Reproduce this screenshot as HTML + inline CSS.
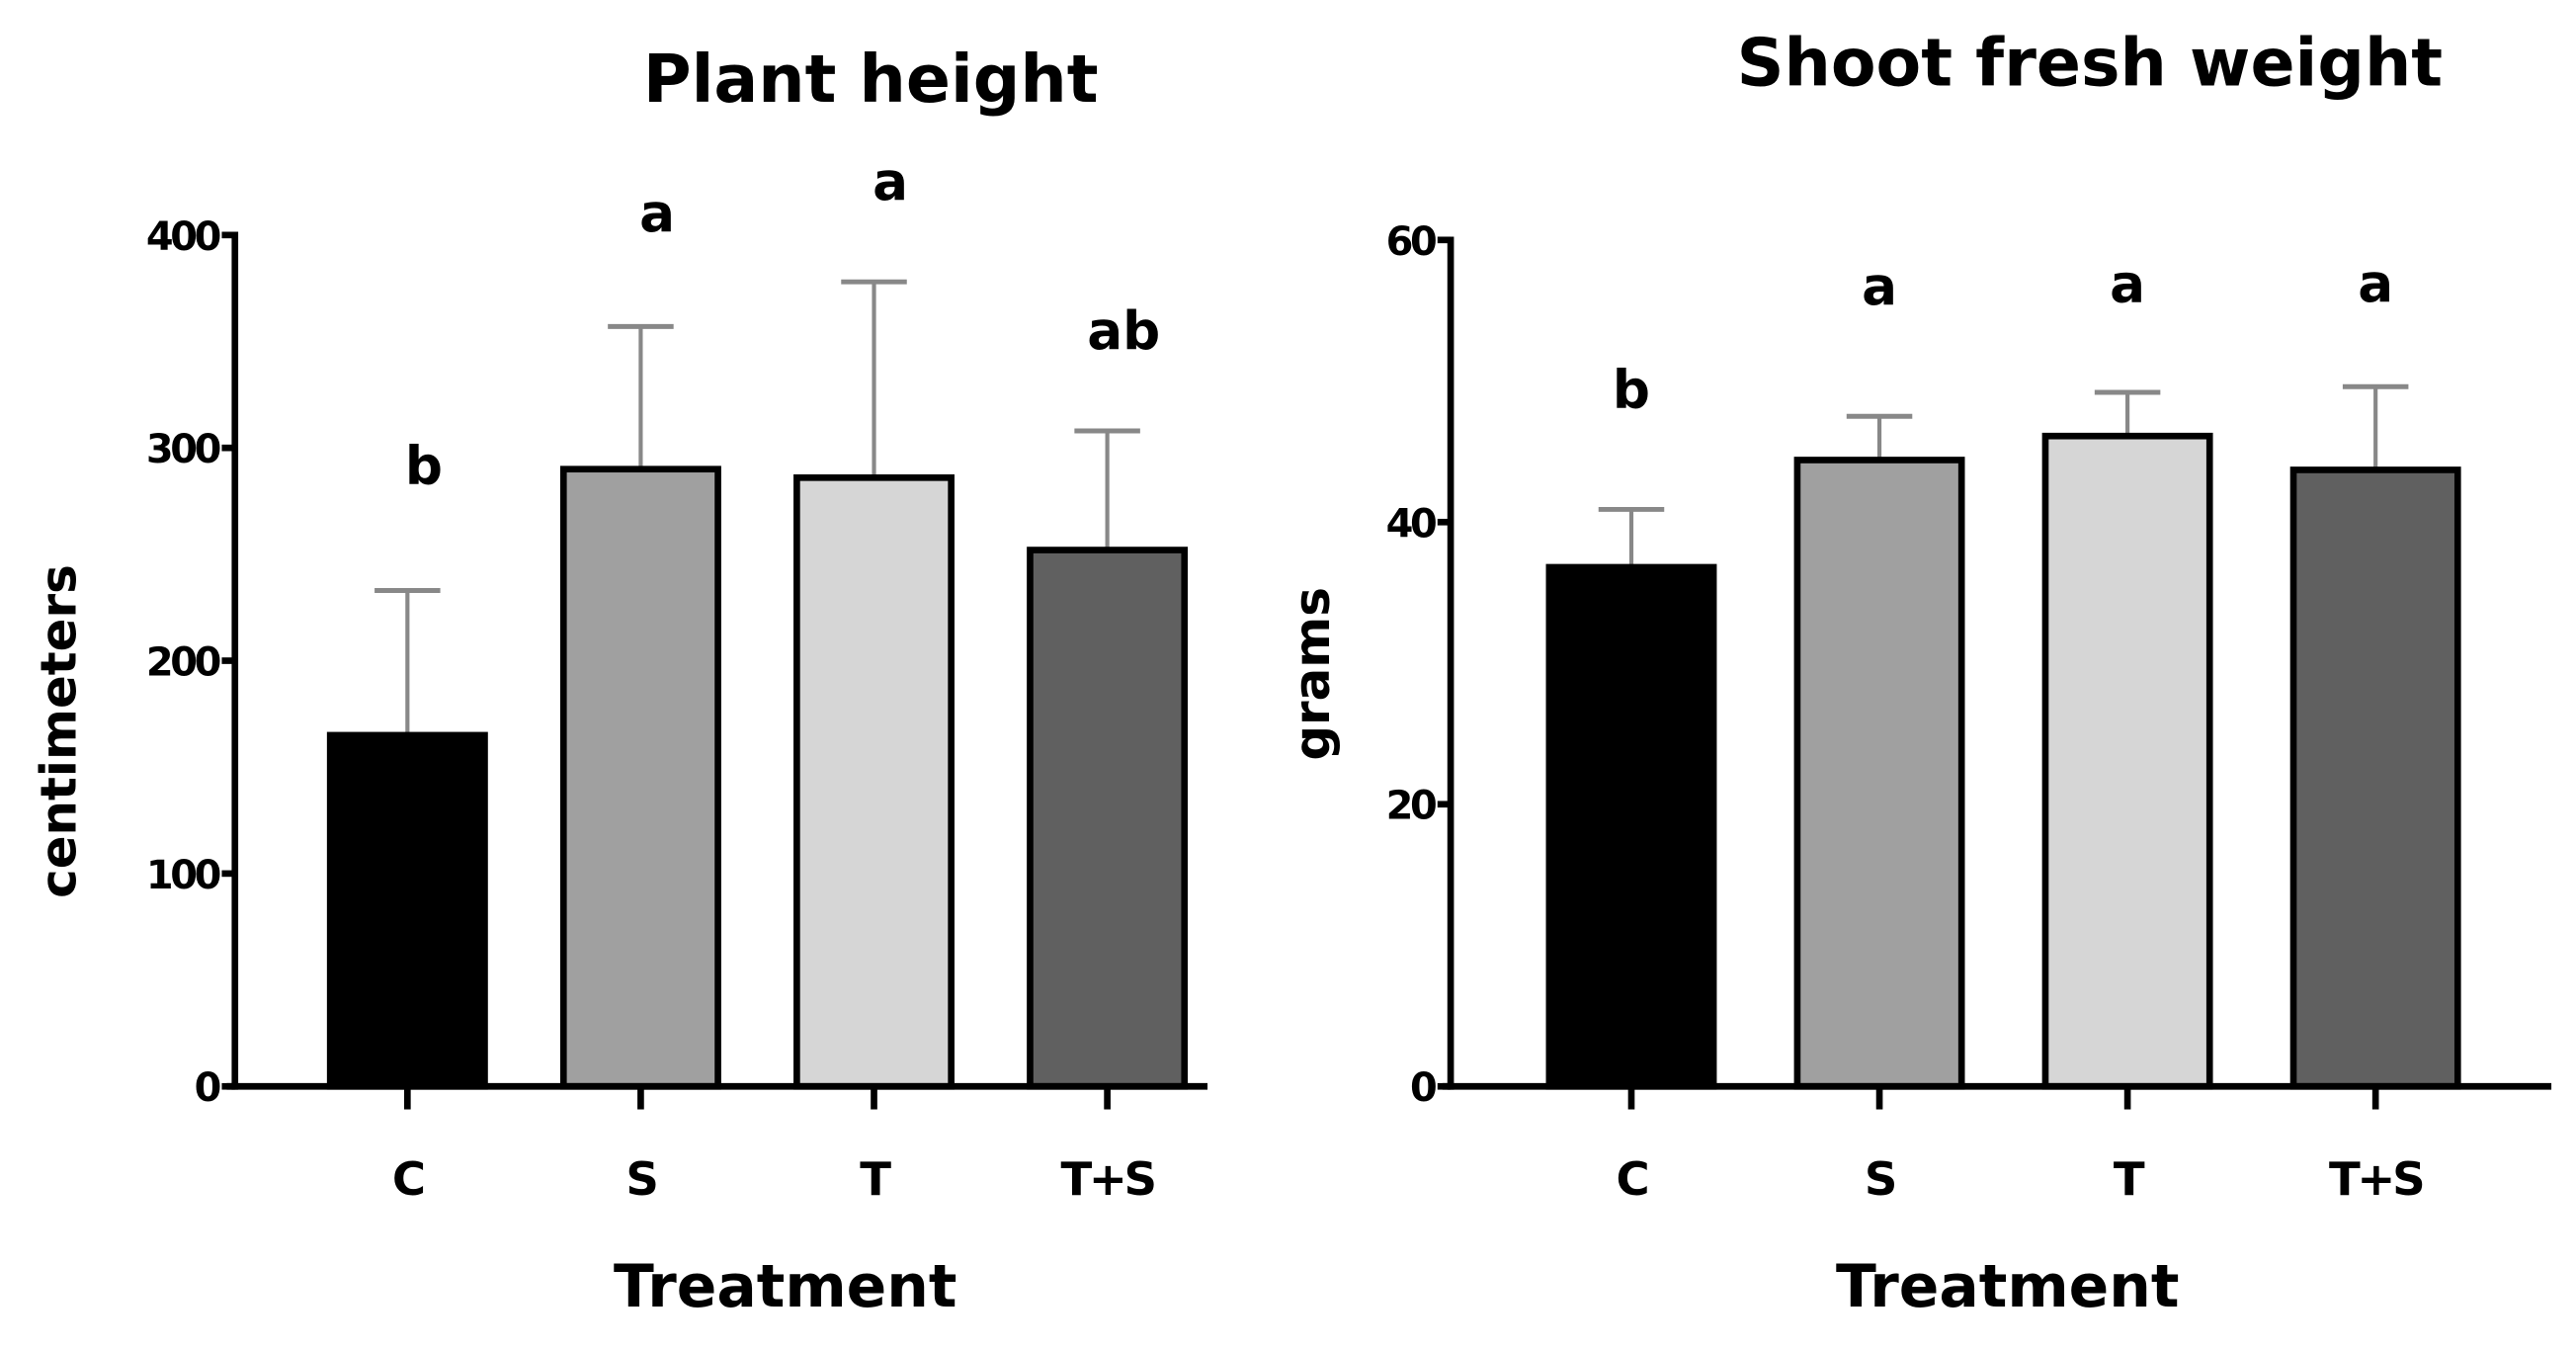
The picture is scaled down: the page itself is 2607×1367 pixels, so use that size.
<!DOCTYPE html>
<html><head><meta charset="utf-8"><style>
html,body{margin:0;padding:0;background:#fff;}
svg{display:block;}
text{font-family:"DejaVu Sans","Liberation Sans",sans-serif;font-weight:bold;fill:#000;}
</style></head><body>
<svg id="svg" width="2607" height="1367" viewBox="0 0 1568 822" preserveAspectRatio="none"></svg>
<script>
const categories = ["C","S","T","T+S"];
const heightValues = [165, 290, 286, 252];
const heightErrors = [68, 67, 92, 56];
const heightLetters = ["b","a","a","ab"];
const heightTicks = [0,100,200,300,400];
const weightValues = [36.8, 44.4, 46.1, 43.7];
const weightErrors = [4.1, 3.1, 3.1, 5.9];
const weightLetters = ["b","a","a","a"];
const weightTicks = [0,20,40,60];
const fills = ["#000000","#a0a0a0","#d6d6d6","#606060"];

const NS="http://www.w3.org/2000/svg";
const svg=document.getElementById('svg');
function mk(tag,attrs,parent,txt){const e=document.createElementNS(NS,tag);for(const k in attrs)e.setAttribute(k,attrs[k]);if(txt!==undefined)e.textContent=txt;(parent||svg).appendChild(e);return e;}

function chart(cfg){
  const g=mk('g',{});
  
  
  const y=v=>cfg.y0-(v/cfg.max)*(cfg.y0-cfg.yTop);
  const t=mk('text',{x:cfg.titleX,y:cfg.titleY,'font-size':40,'text-anchor':'middle'},g,cfg.title);
  
  
  // y ticks
  cfg.ticks.forEach(v=>{
    const l=mk('line',{x1:cfg.ax-8,x2:cfg.ax,y1:y(v),y2:y(v),stroke:'#000','stroke-width':4},g);
    
    
    const tl=mk('text',{x:cfg.ax-10,y:y(v)+9,'font-size':24,'text-anchor':'end','letter-spacing':-2},g,String(v));
    
    
  });
  const bw=cfg.bw;
  categories.forEach((c,i)=>{
    const cx=cfg.cx0+i*cfg.step;
    const top=y(cfg.values[i]), et=y(cfg.values[i]+cfg.errors[i]);
    const eb=mk('line',{x1:cx,x2:cx,y1:et,y2:top,stroke:'#888','stroke-width':2.5},g);
    
    
    const ec=mk('line',{x1:cx-20,x2:cx+20,y1:et,y2:et,stroke:'#888','stroke-width':3},g);
    
    
    const r=mk('rect',{x:cx-bw/2,y:top,width:bw,height:cfg.y0-top,fill:fills[i],stroke:'#000','stroke-width':4},g);
    
    
    const lt=mk('text',{x:cx+cfg.letterDx,y:y(cfg.values[i]+cfg.errors[i])-cfg.letterGap[i],'font-size':32,'text-anchor':'middle'},g,cfg.letters[i]);
    
    
    const xt=mk('line',{x1:cx,x2:cx,y1:cfg.y0,y2:cfg.y0+14,stroke:'#000','stroke-width':4},g);
    
    
    const xl=mk('text',{x:cx,y:cfg.y0+66,'font-size':28,'text-anchor':'middle','letter-spacing':-2},g,c);
    
    
  });
  const ya=mk('line',{x1:cfg.ax,x2:cfg.ax,y1:cfg.yTop-2,y2:cfg.y0+2,stroke:'#000','stroke-width':4},g);
  
  
  const xa=mk('line',{x1:cfg.ax-5,x2:cfg.axEnd,y1:cfg.y0,y2:cfg.y0,stroke:'#000','stroke-width':4},g);
  
  
  const xtit=mk('text',{x:cfg.xtX,y:795,'font-size':36,'text-anchor':'middle'},g,'Treatment');
  
  
  const ytit=mk('text',{x:0,y:0,'font-size':30,'text-anchor':'middle',transform:`translate(${cfg.ytX},${cfg.ytY}) rotate(-90)`},g,cfg.ytitle);
  
  
}
chart({name:'plant-height-chart',title:'Plant height',titleX:530,titleY:62,ax:143,axEnd:735,y0:661,yTop:143,max:400,
  ticks:heightTicks,values:heightValues,errors:heightErrors,letters:heightLetters,letterGap:[65,58,50,50],letterDx:10,
  cx0:248,step:142,bw:94,xtX:478,ytX:46,ytY:445,ytitle:'centimeters'});
chart({name:'shoot-fresh-weight-chart',title:'Shoot fresh weight',titleX:1272,titleY:52,ax:883,axEnd:1553,y0:661,yTop:146,max:60,
  ticks:weightTicks,values:weightValues,errors:weightErrors,letters:weightLetters,letterGap:[62,68,55,52],letterDx:0,
  cx0:993,step:151,bw:100,xtX:1222,ytX:809,ytY:410,ytitle:'grams'});
</script>
</body></html>
